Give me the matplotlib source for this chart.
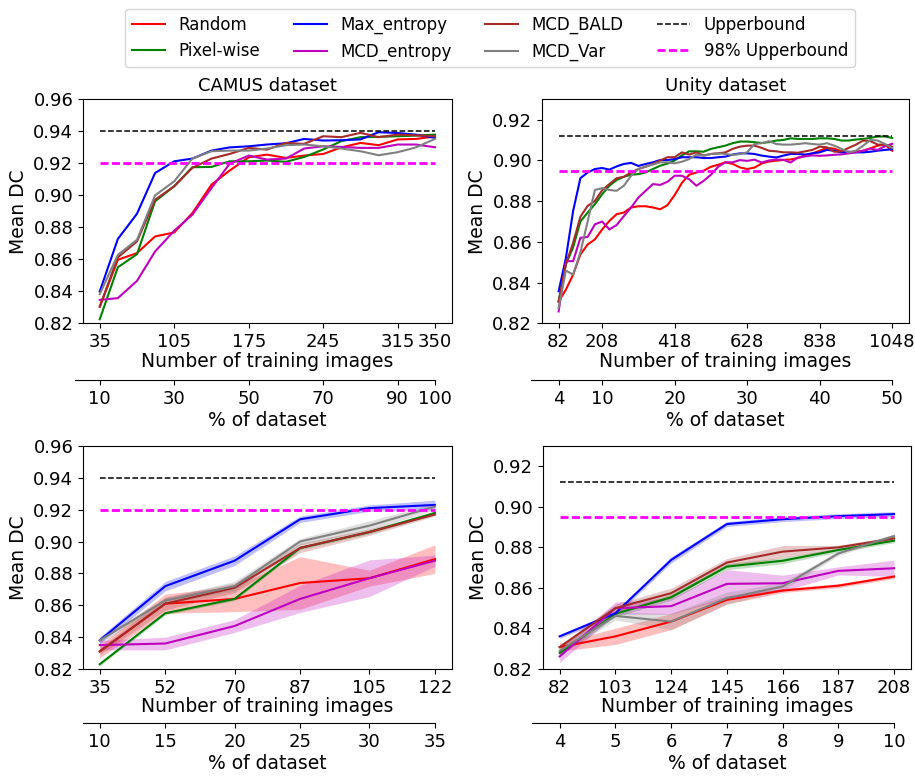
import numpy as np
import matplotlib
matplotlib.use("Agg")
import matplotlib.pyplot as plt

# ---- data ----
methods = ["Random", "Pixel-wise", "Max_entropy", "MCD_entropy", "MCD_BALD", "MCD_Var"]
colors = ["red", "green", "blue", "m", "brown", "grey"]

# CAMUS, full run (top left)
camus_n = [35, 52, 70, 87, 105, 122, 140, 157, 175, 192, 210, 227, 245, 262, 280, 297, 315, 332, 350]
camus_random = [0.8304, 0.8597, 0.8639, 0.8743, 0.8768, 0.8889, 0.9067, 0.9155, 0.9238, 0.9255,
                0.9234, 0.9249, 0.9259, 0.9300, 0.9328, 0.9314, 0.9350, 0.9353, 0.9368]
camus_pixel = [0.8225, 0.8550, 0.8632, 0.8963, 0.9057, 0.9176, 0.9178, 0.9213, 0.9213, 0.9218,
               0.9210, 0.9240, 0.9287, 0.9339, 0.9364, 0.9366, 0.9370, 0.9374, 0.9380]
camus_maxent = [0.8399, 0.8727, 0.8885, 0.9140, 0.9213, 0.9230, 0.9280, 0.9300, 0.9307, 0.9318,
                0.9326, 0.9353, 0.9343, 0.9345, 0.9350, 0.9395, 0.9390, 0.9380, 0.9360]
camus_mcdent = [0.8346, 0.8357, 0.8465, 0.8649, 0.8779, 0.8879, 0.9046, 0.9197, 0.9249, 0.9224,
                0.9230, 0.9293, 0.9307, 0.9303, 0.9297, 0.9297, 0.9318, 0.9318, 0.9301]
camus_bald = [0.8304, 0.8612, 0.8712, 0.8973, 0.9057, 0.9172, 0.9230, 0.9259, 0.9297, 0.9286,
              0.9328, 0.9322, 0.9370, 0.9364, 0.9391, 0.9364, 0.9380, 0.9376, 0.9370]
camus_var = [0.8382, 0.8628, 0.8722, 0.9000, 0.9088, 0.9230, 0.9276, 0.9280, 0.9280, 0.9293,
             0.9314, 0.9318, 0.9307, 0.9293, 0.9276, 0.9251, 0.9270, 0.9300, 0.9353]
camus_pct = [10, 30, 50, 70, 90, 100]
camus_pct_at = [35, 105, 175, 245, 315, 350]
camus_ticks = [35, 105, 175, 245, 315, 350]

# Unity, full run (top right)
unity_n = [82, 103, 124, 145, 166, 187, 208, 229, 250, 271, 292, 313, 334, 355, 376, 397,
           418, 439, 460, 481, 502, 523, 544, 565, 586, 607, 628, 649, 670, 691, 712, 733,
           754, 775, 796, 817, 838, 859, 880, 901, 922, 943, 964, 985, 1006, 1027, 1048]
unity_random = [0.8307, 0.8365, 0.8439, 0.8538, 0.8587, 0.8612, 0.8661, 0.8703, 0.8736, 0.8744,
                0.8769, 0.8775, 0.8775, 0.8769, 0.8760, 0.8780, 0.8830, 0.8890, 0.8930, 0.8941,
                0.8950, 0.8969, 0.8979, 0.8991, 0.8983, 0.8966, 0.8958, 0.8965, 0.8985, 0.8995,
                0.8999, 0.9003, 0.9005, 0.9012, 0.9024, 0.9035, 0.9048, 0.9062, 0.9058, 0.9045,
                0.9040, 0.9042, 0.9048, 0.9060, 0.9073, 0.9078, 0.9048]
unity_pixel = [0.8307, 0.8490, 0.8573, 0.8700, 0.8744, 0.8785, 0.8834, 0.8876, 0.8904, 0.8920,
               0.8930, 0.8933, 0.8941, 0.8958, 0.8974, 0.8985, 0.9000, 0.9025, 0.9045, 0.9045,
               0.9043, 0.9057, 0.9065, 0.9073, 0.9085, 0.9093, 0.9093, 0.9090, 0.9086, 0.9090,
               0.9098, 0.9101, 0.9109, 0.9106, 0.9106, 0.9106, 0.9109, 0.9109, 0.9106, 0.9098,
               0.9098, 0.9103, 0.9106, 0.9111, 0.9118, 0.9118, 0.9111]
unity_maxent = [0.8357, 0.8520, 0.8752, 0.8913, 0.8941, 0.8958, 0.8963, 0.8955, 0.8971, 0.8983,
                0.8988, 0.8973, 0.8983, 0.8991, 0.9002, 0.9002, 0.9007, 0.9016, 0.9016, 0.9016,
                0.9012, 0.9012, 0.9016, 0.9019, 0.9029, 0.9035, 0.9035, 0.9032, 0.9024, 0.9019,
                0.9015, 0.9024, 0.9032, 0.9032, 0.9029, 0.9035, 0.9040, 0.9052, 0.9048, 0.9040,
                0.9043, 0.9040, 0.9040, 0.9043, 0.9048, 0.9052, 0.9055]
unity_mcdent = [0.8258, 0.8505, 0.8505, 0.8620, 0.8624, 0.8686, 0.8700, 0.8661, 0.8683, 0.8727,
                0.8769, 0.8818, 0.8851, 0.8884, 0.8880, 0.8895, 0.8925, 0.8925, 0.8908, 0.8876,
                0.8900, 0.8930, 0.8969, 0.8991, 0.8991, 0.9002, 0.8998, 0.9004, 0.8990, 0.9000,
                0.9005, 0.9003, 0.8990, 0.9015, 0.9020, 0.9025, 0.9023, 0.9025, 0.9028, 0.9030,
                0.9035, 0.9040, 0.9048, 0.9058, 0.9052, 0.9070, 0.9082]
unity_bald = [0.8307, 0.8490, 0.8596, 0.8723, 0.8777, 0.8801, 0.8854, 0.8884, 0.8913, 0.8920,
              0.8941, 0.8958, 0.8969, 0.8983, 0.9000, 0.9016, 0.9016, 0.9040, 0.9029, 0.9040,
              0.9024, 0.9032, 0.9035, 0.9040, 0.9057, 0.9068, 0.9073, 0.9073, 0.9062, 0.9048,
              0.9045, 0.9040, 0.9040, 0.9038, 0.9045, 0.9052, 0.9068, 0.9065, 0.9043, 0.9045,
              0.9062, 0.9078, 0.9098, 0.9095, 0.9078, 0.9078, 0.9068]
unity_var = [0.8274, 0.8459, 0.8439, 0.8548, 0.8700, 0.8855, 0.8864, 0.8855, 0.8851, 0.8876,
             0.8925, 0.8958, 0.8971, 0.8980, 0.8991, 0.8991, 0.8986, 0.8994, 0.9007, 0.9029,
             0.9024, 0.9032, 0.9035, 0.9032, 0.9027, 0.9032, 0.9040, 0.9081, 0.9085, 0.9095,
             0.9081, 0.9078, 0.9078, 0.9081, 0.9085, 0.9081, 0.9078, 0.9085, 0.9073, 0.9057,
             0.9040, 0.9048, 0.9073, 0.9101, 0.9098, 0.9081, 0.9062]
unity_pct = [4, 10, 20, 30, 40, 50]
unity_pct_at = [82, 208, 418, 628, 838, 1048]
unity_ticks = [82, 208, 418, 628, 838, 1048]

# CAMUS, early phase with spread (bottom left)
camus_s_n = [35, 52, 70, 87, 105, 122]
camus_s_mean = {
    "Random":      [0.831, 0.861, 0.864, 0.874, 0.877, 0.889],
    "Pixel-wise":  [0.823, 0.855, 0.864, 0.896, 0.906, 0.918],
    "Max_entropy": [0.838, 0.872, 0.888, 0.914, 0.921, 0.923],
    "MCD_entropy": [0.835, 0.836, 0.847, 0.864, 0.877, 0.888],
    "MCD_BALD":    [0.831, 0.861, 0.871, 0.896, 0.906, 0.917],
    "MCD_Var":     [0.838, 0.863, 0.872, 0.900, 0.910, 0.922],
}
camus_s_sd = {
    "Random":      [0.004, 0.006, 0.008, 0.0165, 0.005, 0.009],
    "Pixel-wise":  [0.001, 0.001, 0.001, 0.001, 0.001, 0.001],
    "Max_entropy": [0.002, 0.003, 0.003, 0.002, 0.002, 0.003],
    "MCD_entropy": [0.003, 0.004, 0.004, 0.0085, 0.0115, 0.0035],
    "MCD_BALD":    [0.002, 0.004, 0.003, 0.003, 0.002, 0.001],
    "MCD_Var":     [0.002, 0.002, 0.003, 0.002, 0.003, 0.002],
}
camus_s_pct = [10, 15, 20, 25, 30, 35]

# Unity, early phase with spread (bottom right)
unity_s_n = [82, 103, 124, 145, 166, 187, 208]
unity_s_mean = {
    "Random":      [0.8308, 0.8361, 0.8434, 0.8541, 0.8587, 0.8611, 0.8656],
    "Pixel-wise":  [0.8279, 0.8472, 0.8554, 0.8705, 0.8734, 0.8787, 0.8833],
    "Max_entropy": [0.8361, 0.8475, 0.8738, 0.8915, 0.8939, 0.8954, 0.8964],
    "MCD_entropy": [0.8262, 0.8500, 0.8510, 0.8620, 0.8623, 0.8684, 0.8697],
    "MCD_BALD":    [0.8308, 0.8500, 0.8574, 0.8725, 0.8779, 0.8800, 0.8844],
    "MCD_Var":     [0.8290, 0.8462, 0.8434, 0.8549, 0.8607, 0.8770, 0.8856],
}
unity_s_sd = {
    "Random":      [0.002, 0.004, 0.004, 0.002, 0.001, 0.001, 0.001],
    "Pixel-wise":  [0.001, 0.0015, 0.0015, 0.0015, 0.0015, 0.001, 0.001],
    "Max_entropy": [0.001, 0.0012, 0.0015, 0.0012, 0.0012, 0.0012, 0.0012],
    "MCD_entropy": [0.003, 0.003, 0.004, 0.007, 0.004, 0.002, 0.004],
    "MCD_BALD":    [0.001, 0.002, 0.0025, 0.002, 0.003, 0.001, 0.001],
    "MCD_Var":     [0.002, 0.002, 0.004, 0.003, 0.002, 0.001, 0.001],
}
unity_s_pct = [4, 5, 6, 7, 8, 9, 10]

camus_ub, camus_ub98 = 0.94, 0.92
unity_ub, unity_ub98 = 0.912, 0.895

camus_full = [camus_random, camus_pixel, camus_maxent, camus_mcdent, camus_bald, camus_var]
unity_full = [unity_random, unity_pixel, unity_maxent, unity_mcdent, unity_bald, unity_var]

FIG_W, FIG_H = 915, 777
fig = plt.figure(figsize=(FIG_W / 100, FIG_H / 100), dpi=100)

pos = {
    "tl": [0.0907, 0.584, 0.403, 0.288],
    "tr": [0.5923, 0.584, 0.401, 0.288],
    "bl": [0.0907, 0.139, 0.403, 0.287],
    "br": [0.5934, 0.139, 0.402, 0.287],
}


def bounds_lines(ax, x, ub, ub98):
    ax.plot([x[0], x[-1]], [ub, ub], color="k", ls="--", lw=1.1, label="Upperbound")
    ax.plot([x[0], x[-1]], [ub98, ub98], color="magenta", ls=(0, (2.9, 1.2)), lw=2,
            label="98% Upperbound")


def pct_axis(ax, ticks_at, pct, left_off_px, outward):
    # second x axis below with % of dataset
    ax2 = ax.twiny()
    ax2.set_xlim(ax.get_xlim())
    ax2.xaxis.set_ticks_position("bottom")
    ax2.xaxis.set_label_position("bottom")
    ax2.spines["bottom"].set_position(("outward", outward))
    for s in ["top", "left", "right"]:
        ax2.spines[s].set_visible(False)
    ax2.set_xticks(ticks_at)
    ax2.set_xticklabels([str(p) for p in pct])
    ax2.tick_params(labelsize=13)
    ax2.set_xlabel("% of dataset", fontsize=13.5, labelpad=2)
    x0, x1 = ax.get_xlim()
    w_px = ax.get_position().width * FIG_W
    ax2.spines["bottom"].set_bounds(x0 - left_off_px * (x1 - x0) / w_px, ticks_at[-1])
    return ax2


def style(ax, xticks, ylim, yticks):
    ax.set_xticks(xticks)
    ax.set_ylim(*ylim)
    ax.set_yticks(yticks)
    ax.set_yticklabels([f"{v:.2f}" for v in yticks])
    ax.tick_params(labelsize=13)
    ax.set_xlabel("Number of training images", fontsize=13.5, labelpad=0.5)
    ax.set_ylabel("Mean DC", fontsize=13.5)


# top left: CAMUS
ax = fig.add_axes(pos["tl"])
for name, c, y in zip(methods, colors, camus_full):
    ax.plot(camus_n, y, color=c, lw=1.5, label=name)
bounds_lines(ax, camus_n, camus_ub, camus_ub98)
style(ax, camus_ticks, (0.82, 0.96), [0.82, 0.84, 0.86, 0.88, 0.90, 0.92, 0.94, 0.96])
ax.set_title("CAMUS dataset", fontsize=13)
pct_axis(ax, camus_pct_at, camus_pct, 8, 41)
ax_tl = ax

# top right: Unity
ax = fig.add_axes(pos["tr"])
for name, c, y in zip(methods, colors, unity_full):
    ax.plot(unity_n, y, color=c, lw=1.5, label=name)
bounds_lines(ax, unity_n, unity_ub, unity_ub98)
style(ax, unity_ticks, (0.82, 0.93), [0.82, 0.84, 0.86, 0.88, 0.90, 0.92])
ax.set_title("Unity dataset", fontsize=13)
pct_axis(ax, unity_pct_at, unity_pct, 11, 41)

# bottom left: CAMUS early phase
ax = fig.add_axes(pos["bl"])
for name, c in zip(methods, colors):
    m = np.array(camus_s_mean[name])
    sd = np.array(camus_s_sd[name])
    ax.plot(camus_s_n, m, color=c, lw=1.5)
    ax.fill_between(camus_s_n, m - sd, m + sd, color=c, alpha=0.25, lw=0)
bounds_lines(ax, camus_s_n, camus_ub, camus_ub98)
style(ax, camus_s_n, (0.82, 0.96), [0.82, 0.84, 0.86, 0.88, 0.90, 0.92, 0.94, 0.96])
pct_axis(ax, camus_s_n, camus_s_pct, 0, 39)

# bottom right: Unity early phase
ax = fig.add_axes(pos["br"])
for name, c in zip(methods, colors):
    m = np.array(unity_s_mean[name])
    sd = np.array(unity_s_sd[name])
    ax.plot(unity_s_n, m, color=c, lw=1.5)
    ax.fill_between(unity_s_n, m - sd, m + sd, color=c, alpha=0.25, lw=0)
bounds_lines(ax, unity_s_n, unity_ub, unity_ub98)
style(ax, unity_s_n, (0.82, 0.93), [0.82, 0.84, 0.86, 0.88, 0.90, 0.92])
pct_axis(ax, unity_s_n, unity_s_pct, 11, 39)

handles, labels = ax_tl.get_legend_handles_labels()
fig.legend(handles, labels, loc="upper center", bbox_to_anchor=(0.5355, 0.999), ncol=4,
           fontsize=12, frameon=True)

fig.savefig("out.png", dpi=100)
